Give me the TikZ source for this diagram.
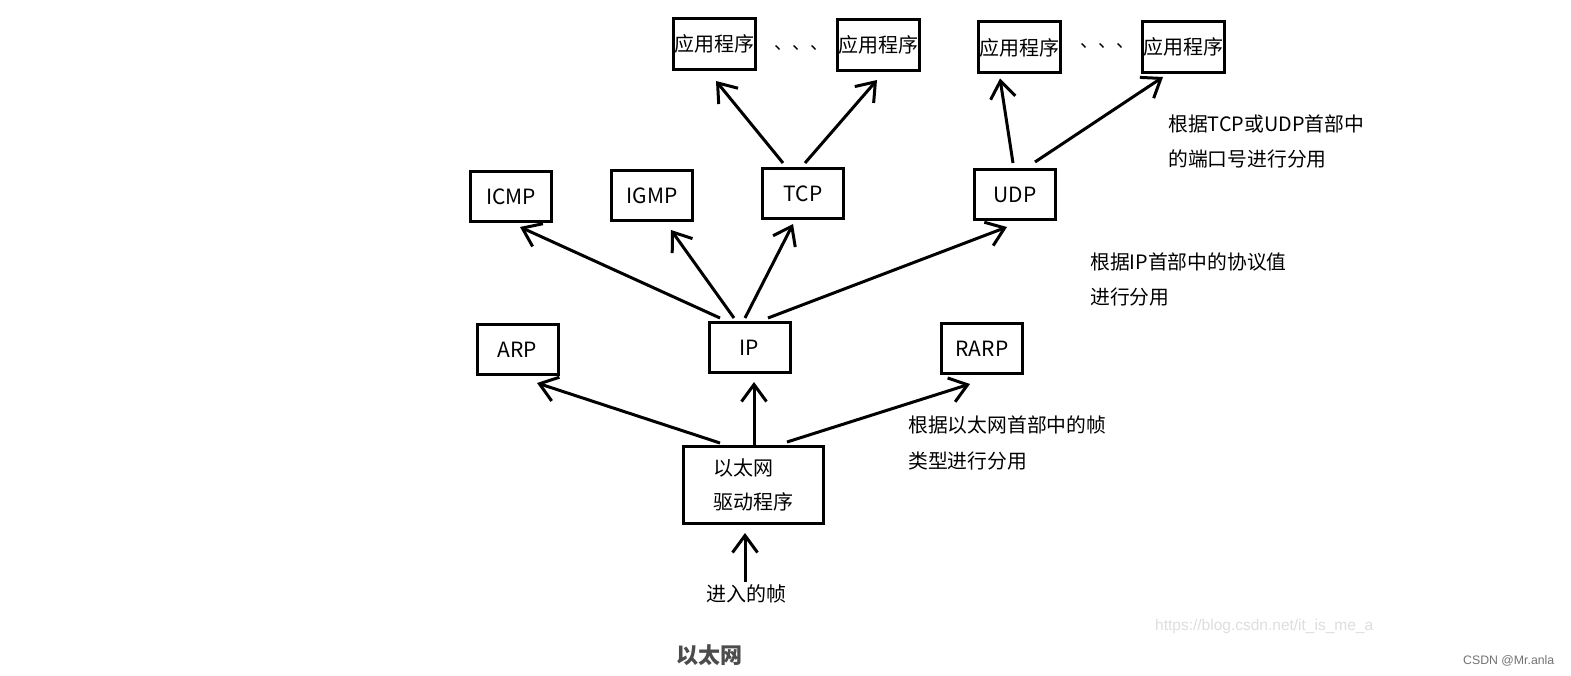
\documentclass[tikz,border=0pt]{standalone}
\usepackage{fontspec}
\setmainfont{Noto Sans CJK SC}
\newfontfamily\wmfont{Liberation Sans}
\usetikzlibrary{arrows.meta,calc}
\newcommand{\lowtxt}[1]{\raisebox{-3pt}{#1}}
\begin{document}
\begin{tikzpicture}[x=1pt,y=-1pt,
  box/.style={draw, line width=3pt, minimum width=81pt, minimum height=50pt, inner sep=0pt, font=\fontsize{21}{24}\selectfont},
  appbox/.style={box, minimum width=82pt, minimum height=51pt, font=\fontsize{20}{24}\selectfont},
  conn/.style={line width=3pt, -{Straight Barb[length=17pt,width=25pt]}},
  lbl/.style={anchor=base west, align=left, inner sep=0pt, font=\fontsize{19.8}{35.5}\selectfont},
  dots/.style={inner sep=0pt, font=\fontsize{18}{20}\selectfont},
]
\useasboundingbox[fill=white] (0,0) rectangle (1571,676);

% application boxes
\node[appbox] (a1) at (714.5,44) {\lowtxt{应用程序}};
\node[appbox] (a2) at (878,45) {\lowtxt{应用程序}};
\node[appbox] (a3) at (1019,47.5) {\lowtxt{应用程序}};
\node[appbox] (a4) at (1183,47) {\lowtxt{应用程序}};
\node[dots] (d1) at (801,48) {、、、};
\node[dots] (d2) at (1107,46) {、、、};

% transport layer
\node[box] (icmp) at (511,196.5) {ICMP};
\node[box] (igmp) at (652,195.5) {IGMP};
\node[box] (tcp) at (803,193.5) {TCP};
\node[box] (udp) at (1015,194.5) {\lowtxt{UDP}};

% network layer
\node[box] (arp) at (517.5,349.5) {ARP};
\node[box] (ip) at (749.5,347.5) {IP};
\node[box] (rarp) at (982,348.5) {\lowtxt{RARP}};

% driver
\node[box, minimum width=140pt, minimum height=77pt, align=left, font=\fontsize{20}{34}\selectfont] (eth) at (753.5,485) {\lowtxt{以太网}\\\lowtxt{驱动程序}};
\node[inner sep=0pt, font=\fontsize{20}{24}\selectfont] (in) at (746,594) {进入的帧};

% labels
\node[lbl] (l1) at (908,468) {根据以太网首部中的帧\\类型进行分用};
\node[lbl] (l2) at (1090,305) {根据IP首部中的协议值\\进行分用};
\node[lbl] (l3) at (1168,167) {根据TCP或UDP首部中\\的端口号进行分用};

\node[inner sep=0pt, text=black!70, font=\fontsize{22}{24}\selectfont\bfseries] (eth2) at (709,655) {以太网};
\node[inner sep=0pt, anchor=west, text=black!13, font=\wmfont\fontsize{15.5}{18}\selectfont] (wm) at (1155,626) {https://blog.csdn.net/it\_is\_me\_a};
\node[inner sep=0pt, anchor=west, text=black!55, font=\wmfont\fontsize{12.3}{14}\selectfont] (csdn) at (1463,661) {CSDN @Mr.anla};

% connectors
\draw[conn] ([shift={(-1,-2.5)}]in.north) -- ([shift={(-8.5,8)}]eth.south);
\draw[conn] ([shift={(-33.5,-2)}]eth.north) -- ([shift={(19.5,7)}]arp.south);
\draw[conn] ([shift={(0.5,0)}]eth.north) -- ([shift={(4.5,8)}]ip.south);
\draw[conn] ([shift={(33.5,-3)}]eth.north) -- ([shift={(-12,9)}]rarp.south);

\draw[conn] ([shift={(-29.5,-3)}]ip.north) -- ([shift={(9,4)}]icmp.south);
\draw[conn] ([shift={(-15.5,-3)}]ip.north) -- ([shift={(19,8)}]igmp.south);
\draw[conn] ([shift={(-4.5,-3)}]ip.north) -- ([shift={(-10,4)}]tcp.south);
\draw[conn] ([shift={(18.5,-3)}]ip.north) -- ([shift={(-8,6)}]udp.south);

\draw[conn] ([shift={(-20,-4)}]tcp.north) -- ([shift={(1.5,10)}]a1.south);
\draw[conn] ([shift={(2,-4)}]tcp.north) -- ([shift={(-1,8)}]a2.south);
\draw[conn] ([shift={(-2,-5)}]udp.north) -- ([shift={(-19,4)}]a3.south);
\draw[conn] ([shift={(20,-6)}]udp.north) -- ([shift={(-20,3)}]a4.south);
\end{tikzpicture}
\end{document}
